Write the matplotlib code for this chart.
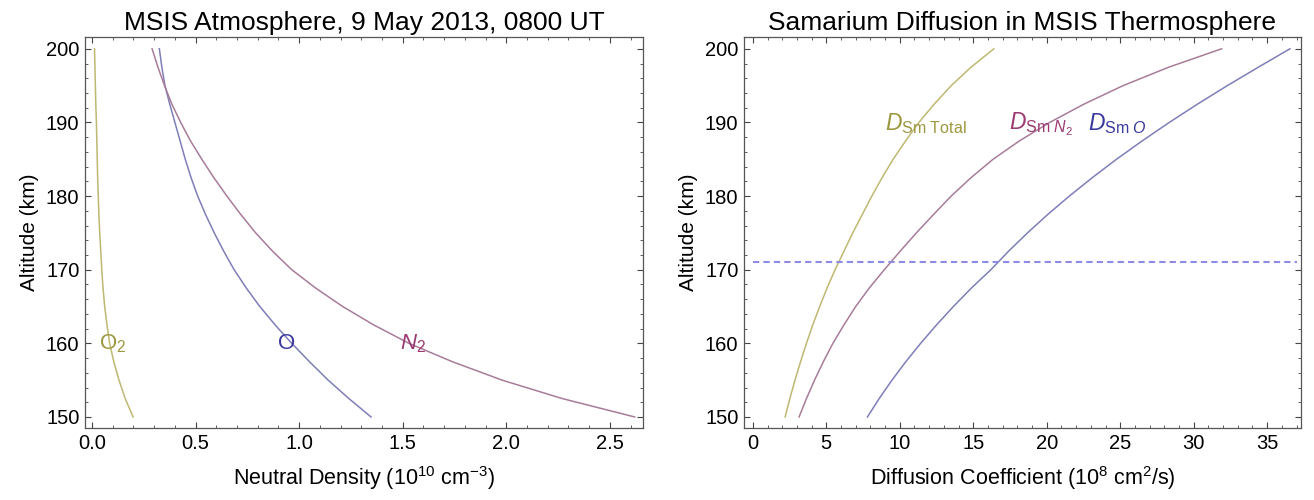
import numpy as np
import matplotlib
matplotlib.use("Agg")
import matplotlib.pyplot as plt
from matplotlib.ticker import MultipleLocator, FormatStrFormatter

plt.rcParams['font.family'] = ['Liberation Sans', 'DejaVu Sans']
plt.rcParams['mathtext.fontset'] = 'custom'
plt.rcParams['mathtext.rm'] = 'Liberation Sans'
plt.rcParams['mathtext.it'] = 'Liberation Sans:italic'
plt.rcParams['mathtext.default'] = 'regular'

# altitudes (km)
alt = [150, 152.5, 155, 157.5, 160, 162.5, 165, 167.5, 170, 172.5, 175,
       177.5, 180, 182.5, 185, 187.5, 190, 192.5, 195, 197.5, 200]

# neutral density, 10^10 cm^-3
n_N2 = [2.62, 2.27, 1.98, 1.74, 1.53, 1.36, 1.21, 1.08, 0.964, 0.872, 0.79,
        0.718, 0.651, 0.588, 0.53, 0.475, 0.428, 0.385, 0.35, 0.318, 0.29]
n_O = [1.347, 1.24, 1.14, 1.05, 0.964, 0.884, 0.81, 0.745, 0.686, 0.636, 0.59,
       0.548, 0.51, 0.478, 0.45, 0.425, 0.40, 0.375, 0.352, 0.337, 0.325]
n_O2 = [0.198, 0.160, 0.130, 0.105, 0.085, 0.072, 0.061, 0.053, 0.047, 0.042, 0.037,
        0.033, 0.030, 0.027, 0.025, 0.023, 0.021, 0.018, 0.016, 0.014, 0.012]

# diffusion coefficients, 10^8 cm^2/s
D_total = [2.2, 2.52, 2.87, 3.25, 3.65, 4.08, 4.55, 5.05, 5.6, 6.2, 6.8,
           7.45, 8.1, 8.8, 9.55, 10.4, 11.3, 12.35, 13.5, 14.85, 16.4]
D_N2 = [3.15, 3.65, 4.2, 4.8, 5.45, 6.2, 7.0, 7.92, 8.95, 10.02, 11.13,
        12.3, 13.5, 14.85, 16.35, 18.15, 20.2, 22.55, 25.2, 28.3, 31.9]
D_O = [7.8, 8.6, 9.47, 10.41, 11.42, 12.5, 13.65, 14.87, 16.2, 17.4, 18.69,
       20.07, 21.54, 23.1, 24.75, 26.5, 28.34, 30.27, 32.29, 34.4, 36.55]

alt_mark = 171

c_olive, c_mauve, c_blue = '#bdb872', '#a87c99', '#7e7eb9'
t_olive, t_mauve, t_blue = '#9d973f', '#9b3a72', '#3a3a9e'

fig = plt.figure(figsize=(13.14, 5.0), dpi=100)
ax1 = fig.add_axes([0.0647, 0.144, 0.4246, 0.782])
ax2 = fig.add_axes([0.5662, 0.144, 0.4239, 0.782])

def style(ax, xmaj, xmin):
    ax.xaxis.set_major_locator(MultipleLocator(xmaj))
    ax.xaxis.set_minor_locator(MultipleLocator(xmin))
    ax.yaxis.set_major_locator(MultipleLocator(10))
    ax.yaxis.set_minor_locator(MultipleLocator(2))
    ax.tick_params(which='both', direction='in', top=True, right=True,
                   colors='#444444', labelcolor='black', labelsize=14.5)
    ax.tick_params(which='major', length=4.5, width=0.8, pad=4)
    ax.tick_params(which='minor', length=2.5, width=0.6)
    for s in ax.spines.values():
        s.set_color('#555555')
        s.set_linewidth(0.9)
    ax.set_ylim(148.5, 201.6)
    ax.set_ylabel('Altitude (km)', fontsize=15, labelpad=5)

# left panel
ax1.plot(n_O2, alt, color=c_olive, lw=1.1)
ax1.plot(n_O, alt, color=c_blue, lw=1.1)
ax1.plot(n_N2, alt, color=c_mauve, lw=1.1)
style(ax1, 0.5, 0.1)
ax1.set_xlim(-0.034, 2.66)
ax1.xaxis.set_major_formatter(FormatStrFormatter('%.1f'))
ax1.set_title('MSIS Atmosphere, 9 May 2013, 0800 UT', fontsize=19, pad=5)
ax1.set_xlabel(r'Neutral Density (10$^{10}$ cm$^{-3}$)', fontsize=15.5, labelpad=8)
ax1.text(0.1, 160, r'O$_2$', color=t_olive, fontsize=16, ha='center', va='center')
ax1.text(0.94, 160, 'O', color=t_blue, fontsize=16, ha='center', va='center')
ax1.text(1.55, 160, r'$\mathit{N}_2$', color=t_mauve, fontsize=16, ha='center', va='center')

# right panel
ax2.plot(D_total, alt, color=c_olive, lw=1.1)
ax2.plot(D_N2, alt, color=c_mauve, lw=1.1)
ax2.plot(D_O, alt, color=c_blue, lw=1.1)
ax2.plot([0, 37], [alt_mark, alt_mark], color='#8c8ce6', lw=1.5, ls=(0, (3, 2)))
style(ax2, 5, 1)
ax2.set_xlim(-0.6, 37.3)
ax2.set_title('Samarium Diffusion in MSIS Thermosphere', fontsize=19, pad=5)
ax2.set_xlabel(r'Diffusion Coefficient (10$^{8}$ cm$^{2}$/s)', fontsize=15.5, labelpad=8)
ax2.text(9.0, 189.8, r'$\mathit{D}_{Sm\ Total}$', color=t_olive, fontsize=16.5, ha='left', va='center')
ax2.text(17.4, 189.8, r'$\mathit{D}_{Sm\ \mathit{N}_2}$', color=t_mauve, fontsize=16.5, ha='left', va='center')
ax2.text(22.8, 189.8, r'$\mathit{D}_{Sm\ \mathit{O}}$', color=t_blue, fontsize=16.5, ha='left', va='center')

fig.savefig('out.png', dpi=100, facecolor='white')
